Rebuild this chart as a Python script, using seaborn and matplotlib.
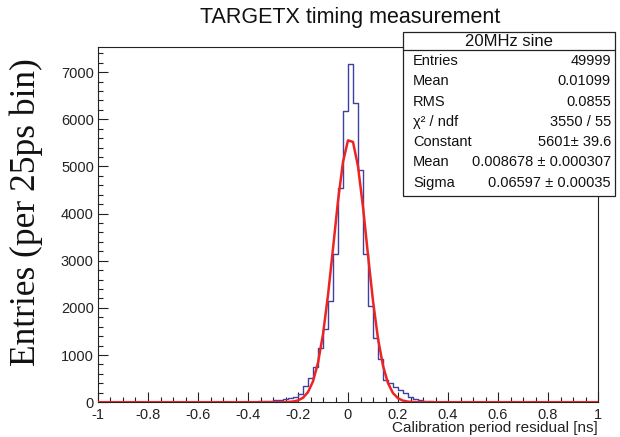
import matplotlib
matplotlib.use("Agg")
import matplotlib.pyplot as plt
import numpy as np
import pandas as pd
import seaborn as sns
from matplotlib.patches import Rectangle
from matplotlib.ticker import MultipleLocator, FixedLocator, FixedFormatter

# ── Data ──────────────────────────────────────────────────────────────────────
BIN_WIDTH = 0.02
N_BINS = 100  # over [-1, 1]
# left edges of the non-empty bins, -0.40 ... 0.38
bin_left = np.round(np.arange(-0.40, 0.39, BIN_WIDTH), 2)
counts = [
    6, 12, 20, 25, 30, 40, 50, 60, 80, 100,
    167, 343, 507, 740, 1142, 1552, 2152, 3135, 4535, 6180,
    7180, 6350, 4916, 3142, 2046, 1368, 916, 480, 400, 330,
    260, 190, 120, 70, 45, 30, 20, 12, 6, 3,
]

# gaussian fit shown in the stats box
fit_constant = 5601
fit_mean = 0.008678
fit_sigma = 0.06597

stats_title = "20MHz sine"
stats_names = ["Entries", "Mean", "RMS", "χ² / ndf", "Constant", "Mean", "Sigma"]
stats_values = ["49999", "0.01099", "0.0855", "3550 / 55", "5601± 39.6",
                "0.008678 ± 0.000307", "0.06597 ± 0.00035"]

xtick_vals = [-1, -0.8, -0.6, -0.4, -0.2, 0, 0.2, 0.4, 0.6, 0.8, 1]
xtick_labels = ["-1", "-0.8", "-0.6", "-0.4", "-0.2", "0", "0.2", "0.4", "0.6", "0.8", "1"]
ytick_vals = [0, 1000, 2000, 3000, 4000, 5000, 6000, 7000]

HIST_COLOR = "#40409e"
FIT_COLOR = "#ec2424"
W, H = 620, 437

# ── Plot ──────────────────────────────────────────────────────────────────────
sns.set_style("white")
plt.rcParams["font.family"] = ["Liberation Sans", "DejaVu Sans"]

fig = plt.figure(figsize=(W / 100, H / 100), dpi=100)
ax = fig.add_axes([98 / W, 1 - 402.2 / H, 500 / W, (402.2 - 46.7) / H])

hist_df = pd.DataFrame({"center": bin_left + BIN_WIDTH / 2, "count": counts})
sns.histplot(
    data=hist_df,
    x="center",
    weights="count",
    bins=N_BINS,
    binrange=(-1, 1),
    element="step",
    fill=False,
    color=HIST_COLOR,
    linewidth=1.0,
    ax=ax,
)

# fit function drawn like ROOT: 100 segments over the axis range
xf = np.linspace(-1, 1, 101)
yf = fit_constant * np.exp(-0.5 * ((xf - fit_mean) / fit_sigma) ** 2)
fit_df = pd.DataFrame({"x": xf, "y": yf})
sns.lineplot(data=fit_df, x="x", y="y", color=FIT_COLOR, linewidth=1.8, ax=ax, zorder=5)

ax.set_xlim(-1, 1)
ax.set_ylim(0, 7180 * 1.05)
ax.set_xlabel("")
ax.set_ylabel("")

ax.xaxis.set_major_locator(FixedLocator(xtick_vals))
ax.xaxis.set_major_formatter(FixedFormatter(xtick_labels))
ax.xaxis.set_minor_locator(MultipleLocator(0.05))
ax.yaxis.set_major_locator(FixedLocator(ytick_vals))
ax.yaxis.set_major_formatter(FixedFormatter([str(v) for v in ytick_vals]))
ax.yaxis.set_minor_locator(MultipleLocator(200))
ax.tick_params(which="both", direction="in", bottom=True, left=True,
               top=False, right=False, color="#222222", width=0.8)
ax.tick_params(which="major", length=7, labelsize=10.5, labelcolor="#222222", pad=3)
ax.tick_params(which="minor", length=3.5)
ax.tick_params(axis="x", which="major", pad=4)
for s in ax.spines.values():
    s.set_color("#222222")
    s.set_linewidth(0.8)

fig.text(350 / W, 1 - 17 / H, "TARGETX timing measurement",
         ha="center", va="center", fontsize=15.5, color="#111111")
fig.text(598 / W, 1 - 428 / H, "Calibration period residual [ns]",
         ha="right", va="center", fontsize=11, color="#222222")
fig.text(26 / W, 1 - 58 / H, "Entries (per 25ps bin)", rotation=90,
         ha="center", va="top", fontsize=25.5, color="#111111",
         family=["Liberation Serif", "DejaVu Serif"])

# stats box
bx0, bx1, by0, by1, bsep = 403, 615, 32, 196, 50
fig.patches.append(Rectangle((bx0 / W, 1 - by1 / H), (bx1 - bx0) / W, (by1 - by0) / H,
                             transform=fig.transFigure, facecolor="white",
                             edgecolor="#222222", linewidth=0.9, zorder=10))
fig.lines.append(plt.Line2D([bx0 / W, bx1 / W], [1 - bsep / H, 1 - bsep / H],
                            transform=fig.transFigure, color="#222222",
                            linewidth=0.9, zorder=11))
fig.text((bx0 + bx1) / 2 / W, 1 - 41 / H, stats_title, ha="center", va="center",
         fontsize=12, color="#111111", zorder=12)
for i, (name, val) in enumerate(zip(stats_names, stats_values)):
    yy = 1 - (61 + 20.3 * i) / H
    fig.text(413 / W, yy, name, ha="left", va="center", fontsize=10.5,
             color="#111111", zorder=12)
    fig.text(611 / W, yy, val, ha="right", va="center", fontsize=10.5,
             color="#111111", zorder=12)

fig.savefig("out.png", dpi=100)
